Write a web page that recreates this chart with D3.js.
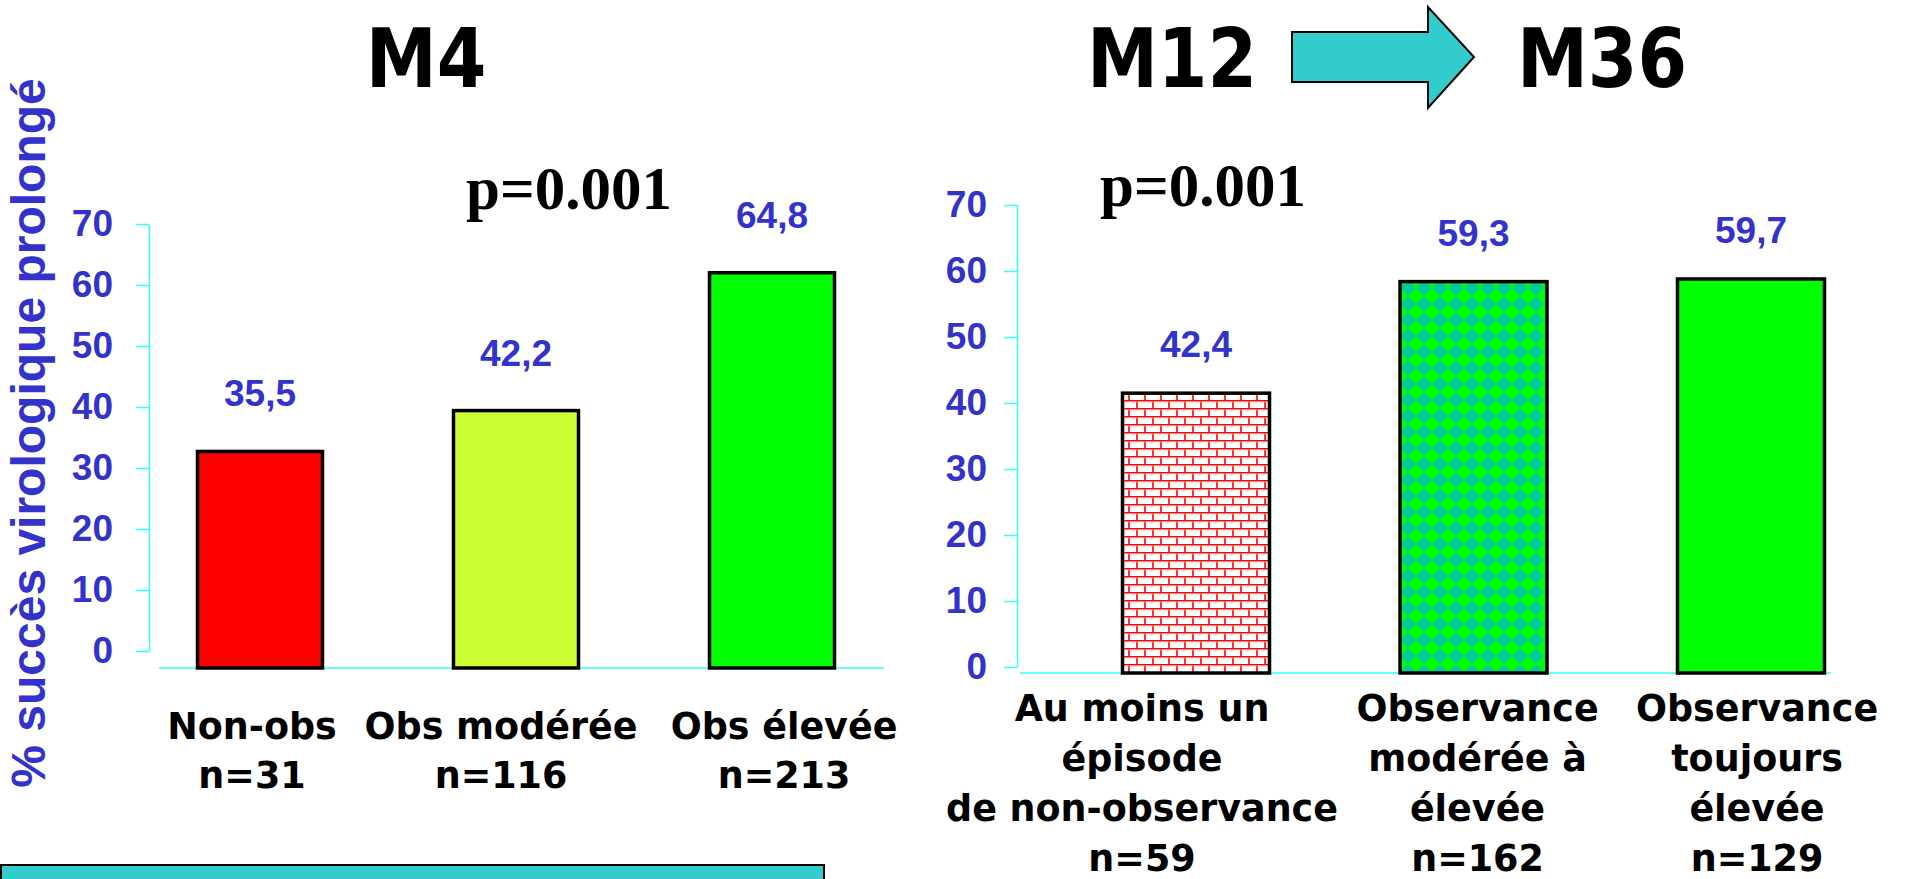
<!DOCTYPE html>
<html>
<head>
<meta charset="utf-8">
<script src="https://cdn.jsdelivr.net/npm/d3@7"></script>
<style>
  body { margin: 0; background: #fff; overflow: hidden; }
  svg { display: block; }
  .tick text { font-family: "Liberation Sans", Arial, sans-serif; font-weight: bold; font-size: 37px; fill: #3333cc; }
  .tick line, .domain { stroke: #33ffff; stroke-width: 1.5; }
</style>
</head>
<body>
<div id="chart"></div>
<script>
// data
var leftCategories = ["Non-obs", "Obs modérée", "Obs élevée"];
var leftCounts = ["n=31", "n=116", "n=213"];
var leftValues = [35.5, 42.2, 64.8];
var leftFills = ["#ff0000", "#ccff33", "#00ff00"];

var rightCategories = [
    ["Au moins un", "épisode", "de non-observance"],
    ["Observance", "modérée à", "élevée"],
    ["Observance", "toujours", "élevée"]
];
var rightCounts = ["n=59", "n=162", "n=129"];
var rightValues = [42.4, 59.3, 59.7];
var rightFills = ["url(#brick)", "url(#diamond)", "#00ff00"];

var yTicks = [0, 10, 20, 30, 40, 50, 60, 70];
var titles = ["M4", "M12", "M36"];
var pText = "p=0.001";
var yTitle = "% succès virologique prolongé";

var width = 1905, height = 879;
var blue = "#3333cc";
var cyan = "#33cccc";
var fmt = function(v) { return d3.format(".1f")(v).replace(".", ","); };

var svg = d3.select("#chart").append("svg")
    .attr("width", width)
    .attr("height", height);

// patterns for the right chart
var defs = svg.append("defs");
var brick = defs.append("pattern")
    .attr("id", "brick")
    .attr("patternUnits", "userSpaceOnUse")
    .attr("width", 16).attr("height", 16);
brick.append("rect").attr("width", 16).attr("height", 16).attr("fill", "#fff");
brick.append("path")
    .attr("d", "M0,0.75H16M0,8.75H16M1,0.75V8.75M9,8.75V16.75")
    .attr("stroke", "#ff0000").attr("stroke-width", 1.6).attr("fill", "none");
brick.append("path")
    .attr("d", "M0,2H16M0,10H16")
    .attr("stroke", "#ffaaaa").attr("stroke-width", 0.8).attr("fill", "none");

var diamond = defs.append("pattern")
    .attr("id", "diamond")
    .attr("patternUnits", "userSpaceOnUse")
    .attr("width", 16).attr("height", 16);
diamond.append("rect").attr("width", 16).attr("height", 16).attr("fill", "#00cc99");
diamond.append("polygon").attr("points", "8,0 16,8 8,16 0,8").attr("fill", "#00ff00");

// text helper, with optional horizontal squeeze to match the slide's font
function slideText(g, x, y, txt, opts) {
    return g.append("text")
        .attr("transform", "translate(" + x + "," + y + ") scale(" + (opts.sx || 1) + ",1)")
        .attr("text-anchor", opts.anchor || "middle")
        .style("font-family", opts.family)
        .style("font-weight", "bold")
        .style("font-size", opts.size + "px")
        .style("fill", opts.fill || "#000")
        .text(txt);
}
var sansWide = "'DejaVu Sans', Verdana, sans-serif";
var arial = "'Liberation Sans', Arial, sans-serif";
var serif = "'Liberation Serif', 'Times New Roman', serif";

// Build one bar panel
function drawPanel(cfg) {
    var g = svg.append("g");

    var y = d3.scaleLinear().domain([0, 70]).range([cfg.base, cfg.top]);
    var x = d3.scalePoint().domain(d3.range(cfg.values.length)).range(cfg.xRange);

    // y axis (sits a little above the bar baseline, as on the slide)
    g.append("g")
        .attr("transform", "translate(" + cfg.axisX + "," + (-cfg.axisShift) + ")")
        .call(d3.axisLeft(y).tickValues(yTicks).tickSize(13).tickPadding(cfg.tickPad).tickSizeOuter(0));

    // baseline
    g.append("line")
        .attr("x1", cfg.baseX[0]).attr("x2", cfg.baseX[1])
        .attr("y1", y(0)).attr("y2", y(0))
        .attr("stroke", "#33ffff").attr("stroke-width", 1.5);

    // bars
    g.selectAll(".bar")
        .data(cfg.values)
        .enter().append("rect")
        .attr("class", "bar")
        .attr("x", function(d, i) { return x(i) - cfg.barWidth / 2; })
        .attr("y", function(d) { return y(d); })
        .attr("width", cfg.barWidth)
        .attr("height", function(d) { return y(0) - y(d); })
        .attr("fill", function(d, i) { return cfg.fills[i]; })
        .attr("stroke", "#000")
        .attr("stroke-width", 3.5);

    // value labels
    cfg.values.forEach(function(v, i) {
        slideText(g, x(i), y(v) - cfg.labelGap, fmt(v), { family: arial, size: 37, fill: blue });
    });

    // category labels
    cfg.categories.forEach(function(lines, i) {
        var cx = x(i) + (cfg.nudge[i] || 0);
        lines.concat([cfg.counts[i]]).forEach(function(t, j) {
            slideText(g, cx, cfg.catY + j * cfg.lineH, t, { family: sansWide, size: 38, sx: 0.96 });
        });
    });
    return g;
}

drawPanel({
    values: leftValues, fills: leftFills,
    categories: leftCategories.map(function(c) { return [c]; }), counts: leftCounts,
    base: 668, top: 241, axisX: 149, axisShift: 17, tickPad: 23,
    xRange: [260, 772], barWidth: 125, baseX: [159, 884],
    labelGap: 45, catY: 739, lineH: 49, nudge: [-8, -15, 12]
});

drawPanel({
    values: rightValues, fills: rightFills,
    categories: rightCategories, counts: rightCounts,
    base: 673, top: 211, axisX: 1017, axisShift: 6, tickPad: 17,
    xRange: [1196, 1751], barWidth: 147, baseX: [1020, 1831],
    labelGap: 36, catY: 721, lineH: 50, nudge: [-54, 4, 6]
});

// y-axis title
svg.append("text")
    .attr("transform", "translate(45,433) rotate(-90)")
    .attr("text-anchor", "middle")
    .style("font-family", arial)
    .style("font-weight", "bold")
    .style("font-size", "48px")
    .style("fill", blue)
    .text(yTitle);

// titles and p values
slideText(svg, 426, 87, titles[0], { family: sansWide, size: 82, sx: 0.87 });
slideText(svg, 1172, 87, titles[1], { family: sansWide, size: 82, sx: 0.87 });
slideText(svg, 1602, 87, titles[2], { family: sansWide, size: 82, sx: 0.87 });
slideText(svg, 466, 209, pText, { family: serif, size: 61, anchor: "start" });
slideText(svg, 1100, 206, pText, { family: serif, size: 61, anchor: "start" });

// arrow between M12 and M36
svg.append("path")
    .attr("d", "M1292,32H1428V7L1474,57L1428,108V82H1292Z")
    .attr("fill", cyan).attr("stroke", "#000").attr("stroke-width", 2);

// cyan box at the bottom (cut off by the slide edge)
svg.append("rect")
    .attr("x", 1).attr("y", 865).attr("width", 823).attr("height", 40)
    .attr("fill", cyan).attr("stroke", "#000").attr("stroke-width", 2);
</script>
</body>
</html>
